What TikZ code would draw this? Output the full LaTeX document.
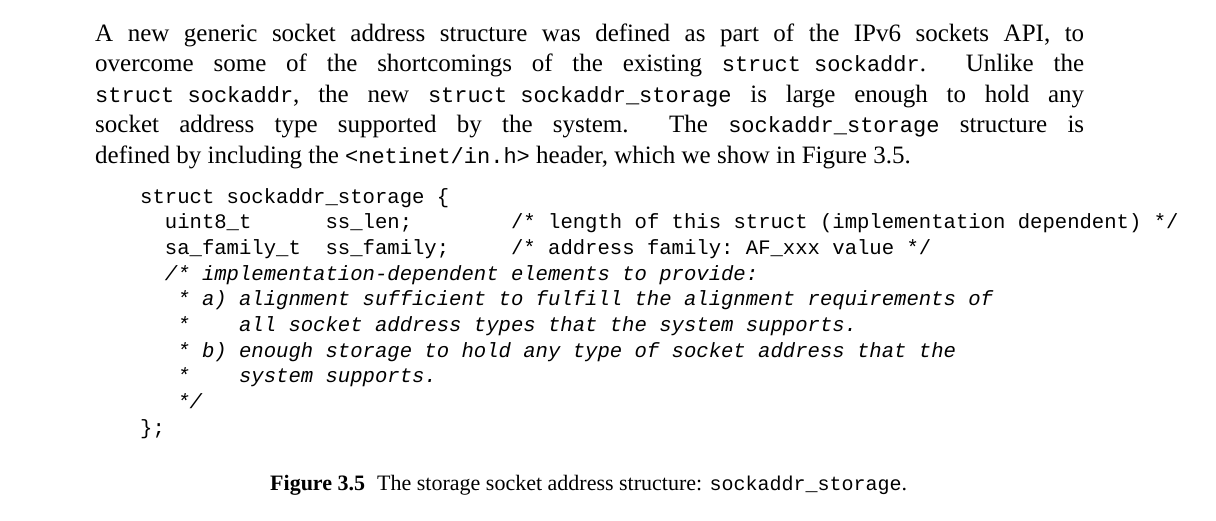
\documentclass[tikz,border=0pt]{standalone}
\usepackage{fontspec}
\setmainfont{Liberation Serif}
\setmonofont{Liberation Mono}
\usetikzlibrary{positioning}

\newcommand{\pline}[1]{\makebox[989pt][s]{#1}}
\newcommand{\tts}[1]{{\fontsize{22}{30}\selectfont\ttfamily #1}}

\tikzset{
	para/.style={anchor=base west, inner sep=0pt, font=\fontsize{25}{30}\selectfont\frenchspacing},
	code/.style={anchor=base west, inner sep=0pt, font=\fontsize{20.6}{25}\selectfont\ttfamily},
	comm/.style={code, font=\fontsize{20.6}{25}\selectfont\ttfamily\itshape},
	capt/.style={anchor=base west, inner sep=0pt, font=\fontsize{22}{25}\selectfont}
}

\begin{document}
\begin{tikzpicture}[x=1pt,y=-1pt]
			\useasboundingbox[fill=white] (0,0) rectangle (1216,520);
			% text above the figure
			\node[para] (p-1) at (95,41) {\pline{A new generic socket address structure was defined as part of the IPv6 sockets API, to}};
			\node[para] (p-2) at (95,71.5) {\pline{overcome some of the shortcomings of the existing \tts{struct sockaddr}. \ Unlike the}};
			\node[para] (p-3) at (95,102) {\pline{\tts{struct sockaddr}, the new \tts{struct sockaddr\_storage} is large enough to hold any}};
			\node[para] (p-4) at (95,132.5) {\pline{socket address type supported by the system. \ The \tts{sockaddr\_storage} structure is}};
			\node[para] (p-5) at (95,163) {defined by including the \tts{<netinet/in.h>} header, which we show in Figure 3.5.};
			% the structure
			\node[code] (c-1) at (140,203) {struct sockaddr\_storage \{};
			\node[code] (c-2) at (140,228.7) {~~uint8\_t~~~~~~ss\_len;~~~~~~~~/* length of this struct (implementation dependent) */};
			\node[code] (c-3) at (140,254.4) {~~sa\_family\_t~~ss\_family;~~~~~/* address family: AF\_xxx value */};
			\node[comm] (c-4) at (140,280.1) {~~/* implementation-dependent elements to provide:};
			\node[comm] (c-5) at (140,305.8) {~~~* a) alignment sufficient to fulfill the alignment requirements of};
			\node[comm] (c-6) at (140,331.5) {~~~*~~~~all socket address types that the system supports.};
			\node[comm] (c-7) at (140,357.2) {~~~* b) enough storage to hold any type of socket address that the};
			\node[comm] (c-8) at (140,382.9) {~~~*~~~~system supports.};
			\node[comm] (c-9) at (140,408.6) {~~~*/};
			\node[code] (c-10) at (140,434.3) {\};};
			% caption
			\node[capt] (fig) at (270,490) {\textbf{Figure 3.5}};
			\node[capt] (cap) at (377,490) {The storage socket address structure: {\fontsize{20}{25}\selectfont\ttfamily sockaddr\_storage}.};
		\end{tikzpicture}
\end{document}
